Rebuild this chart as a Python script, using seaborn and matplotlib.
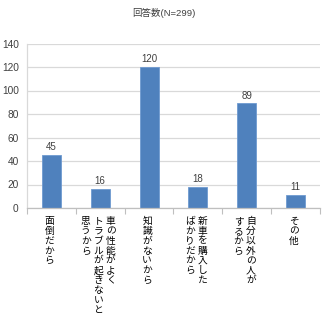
import matplotlib
matplotlib.use("Agg")
import matplotlib.pyplot as plt
import matplotlib.transforms as mtransforms
import numpy as np
import pandas as pd
import seaborn as sns

# Reasons (each "\n" starts a new vertical column) and answer counts
categories = [
    "面倒だから",
    "車の性能がよく\nトラブルが起きないと\n思うから",
    "知識がないから",
    "新車を購入した\nばかりだから",
    "自分以外の人が\nするから",
    "その他",
]
counts = [45, 16, 120, 18, 89, 11]
y_ticks = [0, 20, 40, 60, 80, 100, 120, 140]
title = "回答数(N=299)"

BAR = "#4f81bd"
TEXT = "#404040"
GRID = "#d9d9d9"

sns.set_theme(style="white")
plt.rcParams["font.family"] = ["Liberation Sans", "Noto Sans CJK JP", "DejaVu Sans"]

W, H, DPI = 326, 323, 100
fig = plt.figure(figsize=(W / DPI, H / DPI), dpi=DPI)
ax = fig.add_axes([27 / W, (H - 208) / H, (320 - 27) / W, (208 - 43.5) / H])

df = pd.DataFrame({"reason": categories, "count": counts})
sns.barplot(data=df, x="reason", y="count", ax=ax, color=BAR, saturation=1,
            width=0.39, edgecolor="#6f9ad0", linewidth=0.6)

ax.set_ylim(0, 140)
ax.set_xlim(-0.5, len(categories) - 0.5)
ax.set_yticks(y_ticks)
ax.set_xlabel("")
ax.set_ylabel("")
ax.yaxis.grid(True, color=GRID, linewidth=0.9)
ax.set_axisbelow(True)
ax.tick_params(axis="y", length=0, pad=6, labelsize=7.3, labelcolor=TEXT)

# tick marks on category boundaries, no tick labels on x
ax.set_xticks(range(len(categories)))
ax.set_xticklabels([])
ax.tick_params(axis="x", which="major", length=0)
ax.set_xticks(np.arange(-0.5, len(categories), 1), minor=True)
ax.tick_params(axis="x", which="minor", length=4, width=0.8, color="#bfbfbf",
               direction="out", bottom=True)

for side in ("top", "right"):
    ax.spines[side].set_visible(False)
ax.spines["left"].set_color(GRID)
ax.spines["left"].set_linewidth(0.9)
ax.spines["bottom"].set_color("#bfbfbf")
ax.spines["bottom"].set_linewidth(0.9)

ax.bar_label(ax.containers[0], labels=[str(v) for v in counts], padding=2,
             fontsize=7, color=TEXT)

# vertical (top-to-bottom) category labels, columns read right-to-left
col_gap = 12.5
for i, cat in enumerate(categories):
    lines = cat.split("\n")
    n = len(lines)
    for j, line in enumerate(lines):
        dx = ((n - 1) / 2 - j) * col_gap - 2
        tr = ax.get_xaxis_transform() + mtransforms.ScaledTranslation(
            dx / DPI, -8 / DPI, fig.dpi_scale_trans)
        ax.text(i, 0, "\n".join(line), transform=tr, ha="center", va="top",
                fontsize=7, linespacing=0.98, color="black",
                family=["Noto Sans CJK JP", "DejaVu Sans"])

fig.text(164 / W, 1 - 13 / H, title, ha="center", va="center",
         fontsize=6.8, color=TEXT)

fig.savefig("out.png", dpi=DPI)
